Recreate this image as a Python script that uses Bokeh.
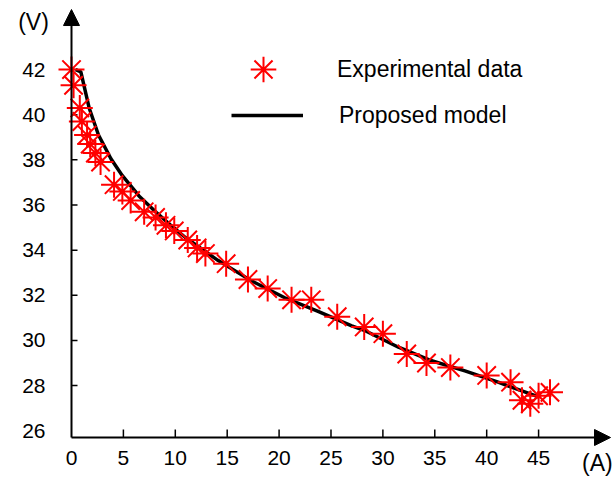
from bokeh.plotting import figure
from bokeh.models import (LinearAxis, FixedTicker, Arrow, NormalHead,
                          Label, Legend, LegendItem, Range1d)
from bokeh.embed import file_html
from bokeh.resources import INLINE

# Measured current (A) and voltage (V)
current_exp = [0.0, 0.2, 0.8, 1.0, 1.5, 1.8, 2.3, 2.8, 4.1, 4.9, 5.7, 7.0, 8.1, 9.1,
               9.9, 11.2, 12.1, 12.9, 14.9, 17.0, 18.9, 21.2, 23.1, 25.6, 28.2, 30.0,
               32.3, 34.2, 36.5, 40.0, 42.3, 43.4, 44.2, 45.0, 46.1]
voltage_exp = [42.0, 41.3, 40.3, 39.7, 39.1, 38.7, 38.3, 37.9, 36.9, 36.6, 36.2, 35.7,
               35.45, 35.1, 34.85, 34.45, 34.1, 33.85, 33.4, 32.7, 32.3, 31.8, 31.8,
               31.05, 30.6, 30.3, 29.4, 29.0, 28.8, 28.45, 28.15, 27.35, 27.2, 27.55, 27.7]

# Model curve
current_model = [0.4, 0.9, 1.7, 2.6, 3.8, 4.9, 6.5, 8.1, 9.7, 11.0, 14.1, 17.3, 20.5,
                 23.7, 27.0, 28.2, 31.5, 34.7, 37.9, 41.1, 45.0]
voltage_model = [42.0, 41.9, 40.3, 39.1, 38.05, 37.3, 36.4, 35.7, 35.05, 34.55, 33.55,
                 32.65, 31.9, 31.3, 30.65, 30.45, 29.7, 29.1, 28.65, 28.15, 27.5]

x_ticks = [0, 5, 10, 15, 20, 25, 30, 35, 40, 45]
y_ticks = [26, 28, 30, 32, 34, 36, 38, 40, 42]

# Where the two axes cross, and how far their arrows reach
X_ORIGIN, Y_ORIGIN = 0.0, 25.7
X_TIP, Y_TIP = 51.93, 44.66
FONT = "Liberation Sans"

X_RANGE = (-6.84, 52.41)
Y_RANGE = (23.84, 45.06)
W, H = 615, 479
# tick mark lengths (6 px across, 8 px up) converted to data units
Y_TICK_LEN = 6 * (X_RANGE[1] - X_RANGE[0]) / W
X_TICK_LEN = 8 * (Y_RANGE[1] - Y_RANGE[0]) / H

# The plotting area fills the whole canvas; axes are pinned inside it
p = figure(width=W, height=H, output_backend="svg", toolbar_location=None,
           x_axis_type=None, y_axis_type=None,
           x_range=Range1d(*X_RANGE), y_range=Range1d(*Y_RANGE), min_border=0)
p.title.visible = False
p.outline_line_color = None
p.background_fill_color = "white"
p.border_fill_color = "white"

label_style = dict(major_label_text_font=FONT, major_label_text_font_size="21px",
                   major_label_text_color="black", axis_line_color=None,
                   major_tick_in=0, major_tick_out=0, minor_tick_out=0)

p.add_layout(LinearAxis(ticker=FixedTicker(ticks=y_ticks), fixed_location=X_ORIGIN,
                        major_label_standoff=26, **label_style), "left")
p.add_layout(LinearAxis(ticker=FixedTicker(ticks=x_ticks), fixed_location=Y_ORIGIN,
                        major_label_standoff=13, **label_style), "below")

# Short inward tick marks (none at the corner)
p.segment(x0=X_ORIGIN, y0=y_ticks[1:], x1=X_ORIGIN + Y_TICK_LEN, y1=y_ticks[1:],
          line_color="black", line_width=1.5)
p.segment(x0=x_ticks[1:], y0=Y_ORIGIN, x1=x_ticks[1:], y1=Y_ORIGIN + X_TICK_LEN,
          line_color="black", line_width=1.5)

# Axis lines with arrow heads
for xe, ye in ((X_TIP, Y_ORIGIN), (X_ORIGIN, Y_TIP)):
    p.add_layout(Arrow(x_start=X_ORIGIN, y_start=Y_ORIGIN, x_end=xe, y_end=ye,
                       line_width=2, line_color="black",
                       end=NormalHead(size=16, fill_color="black",
                                      line_color="black")))

p.add_layout(Label(x=-3.66, y=44.09, text="(V)", text_align="center",
                   text_baseline="middle", text_font=FONT, text_font_size="23px",
                   text_color="black"))
p.add_layout(Label(x=50.67, y=24.55, text="(A)", text_align="center",
                   text_baseline="middle", text_font=FONT, text_font_size="23px",
                   text_color="black"))

model = p.line(current_model, voltage_model, line_color="black", line_width=3.5)
exp = p.scatter(current_exp, voltage_exp, marker="asterisk", size=26,
                line_color="#ff0000", line_width=2)

legend_style = dict(label_text_font=FONT, label_text_font_size="23px",
                    label_text_color="black", padding=0, margin=0,
                    border_line_color=None, background_fill_alpha=0)
p.add_layout(Legend(items=[LegendItem(label="Experimental data", renderers=[exp])],
                    location=(231, 378), glyph_width=64, glyph_height=64,
                    label_height=64, label_standoff=42, **legend_style))
p.add_layout(Legend(items=[LegendItem(label="Proposed model", renderers=[model])],
                    location=(231, 344), glyph_width=72, glyph_height=40,
                    label_height=40, label_standoff=36, **legend_style))

open("out.html", "w").write(file_html(p, INLINE))
